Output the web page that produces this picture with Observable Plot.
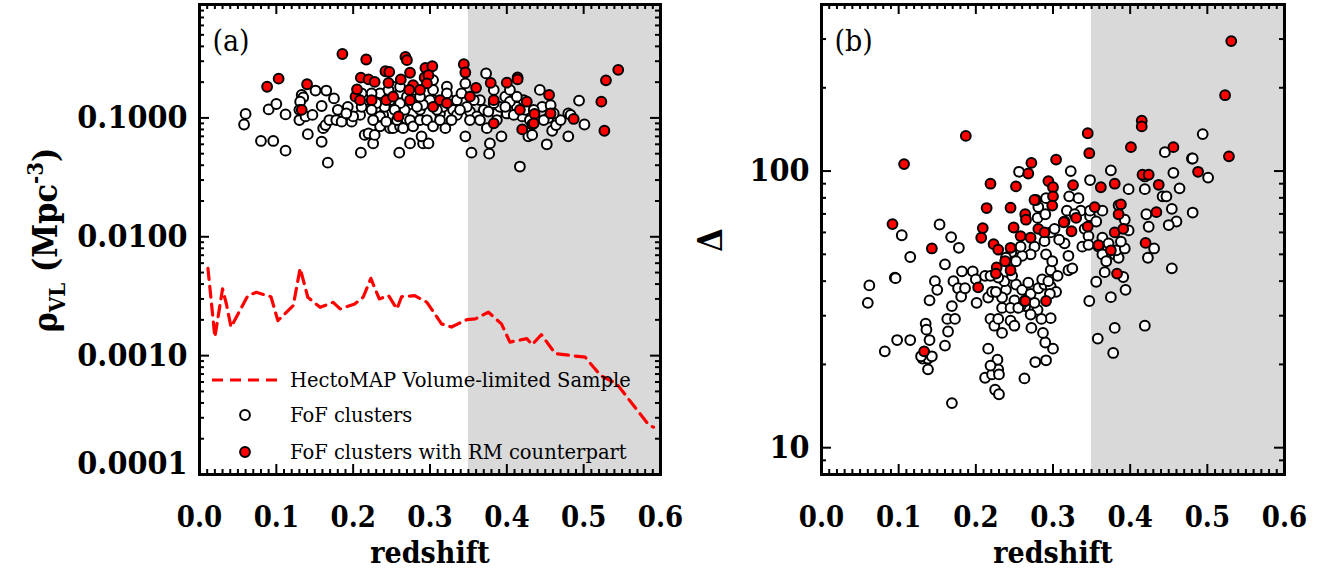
<!DOCTYPE html>
<html><head><meta charset="utf-8">
<script src="https://cdn.jsdelivr.net/npm/d3@7"></script>
<script src="https://cdn.jsdelivr.net/npm/@observablehq/plot@0.6"></script>
<style>
body{margin:0;background:#fff;}
#wrap{position:relative;width:1330px;height:569px;display:flex;}
.panel{position:relative;width:665px;height:569px;}
</style></head><body>
<div id="wrap"><div class="panel" id="pa"></div><div class="panel" id="pb"></div></div>
<script>
// ---------- DATA ----------
// Panel (a): FoF clusters [redshift, rho_VL (Mpc^-3)]
const fofA = [[0.058,0.088],[0.060,0.108],[0.080,0.064],[0.096,0.064],[0.112,0.053],[0.090,0.118],[0.100,0.131],[0.112,0.107],[0.133,0.156],[0.135,0.149],[0.131,0.137],[0.130,0.117],[0.130,0.096],[0.138,0.103],[0.147,0.106],[0.141,0.073],[0.151,0.170],[0.165,0.170],[0.175,0.146],[0.159,0.126],[0.159,0.063],[0.167,0.042],[0.161,0.082],[0.164,0.087],[0.169,0.096],[0.178,0.096],[0.185,0.093],[0.180,0.117],[0.193,0.124],[0.198,0.093],[0.209,0.106],[0.210,0.051],[0.226,0.061],[0.215,0.072],[0.220,0.074],[0.228,0.072],[0.239,0.106],[0.248,0.082],[0.252,0.082],[0.261,0.085],[0.260,0.051],[0.274,0.061],[0.291,0.061],[0.298,0.061],[0.289,0.070],[0.278,0.109],[0.287,0.117],[0.304,0.172],[0.304,0.141],[0.313,0.109],[0.320,0.082],[0.322,0.183],[0.326,0.141],[0.330,0.117],[0.335,0.106],[0.346,0.070],[0.354,0.051],[0.346,0.195],[0.352,0.113],[0.365,0.141],[0.374,0.082],[0.378,0.061],[0.377,0.050],[0.373,0.237],[0.387,0.109],[0.393,0.070],[0.398,0.151],[0.400,0.109],[0.417,0.039],[0.420,0.103],[0.424,0.117],[0.428,0.070],[0.433,0.072],[0.443,0.172],[0.446,0.124],[0.452,0.060],[0.457,0.128],[0.459,0.078],[0.464,0.087],[0.454,0.100],[0.480,0.070],[0.480,0.109],[0.483,0.106],[0.494,0.140],[0.501,0.088],[0.470,0.096],[0.448,0.096],[0.430,0.096],[0.413,0.124],[0.404,0.137],[0.391,0.124],[0.383,0.133],[0.370,0.117],[0.361,0.103],[0.357,0.141],[0.348,0.124],[0.339,0.117],[0.328,0.096],[0.317,0.124],[0.309,0.117],[0.300,0.141],[0.291,0.129],[0.283,0.124],[0.274,0.096],[0.267,0.117],[0.261,0.133],[0.254,0.117],[0.248,0.141],[0.241,0.124],[0.235,0.103],[0.230,0.133],[0.224,0.117],[0.217,0.141],[0.211,0.124],[0.200,0.103],[0.191,0.109],[0.257,0.096],[0.265,0.082],[0.278,0.085],[0.287,0.096],[0.235,0.085],[0.243,0.093],[0.226,0.096],[0.296,0.096],[0.304,0.085],[0.313,0.096],[0.335,0.141],[0.341,0.161],[0.352,0.096],[0.365,0.096],[0.376,0.113],[0.387,0.096],[0.398,0.124],[0.409,0.106],[0.422,0.141],[0.435,0.117],[0.461,0.109],[0.413,0.151],[0.404,0.172],[0.383,0.172],[0.278,0.172],[0.270,0.151],[0.252,0.183],[0.235,0.161],[0.304,0.208],[0.224,0.161],[0.211,0.161],[0.246,0.172],[0.261,0.183],[0.287,0.151],[0.322,0.161]];
// Panel (a): FoF clusters with RM counterpart
const rmA = [[0.088,0.183],[0.103,0.214],[0.140,0.192],[0.186,0.345],[0.217,0.310],[0.268,0.326],[0.270,0.306],[0.294,0.264],[0.303,0.272],[0.344,0.283],[0.346,0.241],[0.360,0.179],[0.379,0.197],[0.400,0.198],[0.414,0.219],[0.414,0.211],[0.455,0.156],[0.436,0.108],[0.433,0.088],[0.420,0.080],[0.487,0.098],[0.529,0.207],[0.545,0.254],[0.523,0.137],[0.527,0.078],[0.203,0.151],[0.205,0.174],[0.210,0.218],[0.220,0.211],[0.228,0.201],[0.242,0.247],[0.247,0.244],[0.246,0.197],[0.262,0.211],[0.274,0.240],[0.278,0.189],[0.293,0.219],[0.298,0.229],[0.243,0.141],[0.259,0.103],[0.273,0.172],[0.296,0.195],[0.313,0.141],[0.322,0.133],[0.224,0.141],[0.209,0.141],[0.274,0.141],[0.287,0.172],[0.304,0.124],[0.252,0.151],[0.417,0.117],[0.426,0.137],[0.383,0.141],[0.352,0.151],[0.435,0.090],[0.457,0.109],[0.133,0.117],[0.383,0.090]];
// Panel (a): HectoMAP volume-limited sample density
const vlSample = [[0.011,0.00542],[0.020,0.00143],[0.030,0.00364],[0.035,0.00272],[0.041,0.00174],[0.063,0.00320],[0.074,0.00341],[0.093,0.00313],[0.102,0.00197],[0.122,0.00264],[0.131,0.00542],[0.141,0.00310],[0.157,0.00255],[0.174,0.00281],[0.183,0.00247],[0.202,0.00272],[0.213,0.00310],[0.223,0.00447],[0.234,0.00300],[0.246,0.00320],[0.257,0.00247],[0.263,0.00313],[0.280,0.00320],[0.296,0.00281],[0.315,0.00185],[0.328,0.00174],[0.337,0.00186],[0.348,0.00201],[0.359,0.00204],[0.376,0.00232],[0.393,0.00185],[0.404,0.00130],[0.426,0.00139],[0.433,0.00124],[0.445,0.00150],[0.463,0.00104],[0.496,0.00098],[0.502,0.00097],[0.522,0.00068],[0.543,0.00058],[0.565,0.00038],[0.585,0.00026],[0.591,0.00025]];
// Panel (b): FoF clusters [redshift, Delta]
const fofB = [[0.062,38.6],[0.060,33.4],[0.095,41.2],[0.096,41.0],[0.104,58.6],[0.115,48.9],[0.082,22.3],[0.098,24.5],[0.115,24.5],[0.153,64.1],[0.160,46.0],[0.147,40.0],[0.150,37.2],[0.140,34.1],[0.135,28.1],[0.136,26.7],[0.140,24.5],[0.134,21.2],[0.131,21.0],[0.138,21.0],[0.143,21.4],[0.129,21.4],[0.138,19.2],[0.160,23.4],[0.164,26.3],[0.163,29.2],[0.169,32.5],[0.173,29.2],[0.169,14.5],[0.168,57.7],[0.178,52.8],[0.171,40.0],[0.177,37.7],[0.181,35.2],[0.186,37.7],[0.182,43.4],[0.196,43.4],[0.201,33.4],[0.200,40.6],[0.212,41.8],[0.216,34.9],[0.219,29.2],[0.224,27.6],[0.234,26.0],[0.229,29.2],[0.216,22.8],[0.212,17.9],[0.221,18.4],[0.229,19.2],[0.228,20.8],[0.230,18.4],[0.219,19.8],[0.225,16.2],[0.230,15.6],[0.263,17.8],[0.277,20.4],[0.291,20.7],[0.300,22.8],[0.290,24.0],[0.287,26.0],[0.297,29.4],[0.285,29.2],[0.280,31.5],[0.276,33.4],[0.272,27.1],[0.271,30.3],[0.264,32.5],[0.258,32.5],[0.250,34.1],[0.245,28.8],[0.250,27.6],[0.239,37.2],[0.234,34.9],[0.237,40.0],[0.252,38.9],[0.260,37.2],[0.268,39.5],[0.271,36.0],[0.281,37.7],[0.289,38.9],[0.297,38.3],[0.304,36.6],[0.296,36.0],[0.286,40.6],[0.294,40.0],[0.297,43.8],[0.291,50.0],[0.299,47.2],[0.306,41.8],[0.320,43.8],[0.325,44.5],[0.320,49.4],[0.315,54.8],[0.308,56.5],[0.297,60.0],[0.289,55.8],[0.276,53.3],[0.271,50.0],[0.260,49.4],[0.258,53.3],[0.252,47.2],[0.246,50.9],[0.239,48.6],[0.247,41.8],[0.229,41.2],[0.219,41.8],[0.221,36.6],[0.226,36.6],[0.234,32.0],[0.245,32.0],[0.255,32.0],[0.263,33.9],[0.280,67.7],[0.291,79.8],[0.281,74.1],[0.290,69.8],[0.302,61.8],[0.315,65.7],[0.318,71.9],[0.321,81.0],[0.333,79.8],[0.336,71.9],[0.328,69.8],[0.341,61.8],[0.346,58.2],[0.338,53.3],[0.348,68.7],[0.346,54.1],[0.359,53.3],[0.364,50.0],[0.369,47.2],[0.380,50.0],[0.385,48.6],[0.367,43.1],[0.356,39.8],[0.347,33.9],[0.358,24.8],[0.375,35.0],[0.380,27.1],[0.378,22.0],[0.391,41.4],[0.394,37.2],[0.364,57.4],[0.372,54.8],[0.382,51.7],[0.393,52.5],[0.398,61.0],[0.388,55.6],[0.393,66.7],[0.385,75.2],[0.398,86.0],[0.364,71.9],[0.356,65.7],[0.348,71.9],[0.348,92.8],[0.323,100],[0.375,100.6],[0.256,99.4],[0.278,78.6],[0.419,86.0],[0.421,69.8],[0.424,62.9],[0.423,48.6],[0.431,52.5],[0.419,27.6],[0.419,95.6],[0.442,81.0],[0.447,81.0],[0.454,73.0],[0.460,65.7],[0.450,63.8],[0.454,44.5],[0.445,117],[0.456,98.5],[0.464,86.6],[0.481,70.8],[0.480,111],[0.481,111],[0.501,94.7],[0.494,136]];
// Panel (b): FoF clusters with RM counterpart
const rmB = [[0.531,295],[0.523,188],[0.528,113],[0.415,152],[0.415,145],[0.345,137],[0.347,116],[0.401,122],[0.456,122],[0.187,134],[0.107,106],[0.488,99.4],[0.416,97],[0.424,97],[0.437,89.2],[0.362,87.4],[0.380,90],[0.304,110],[0.272,107],[0.268,98],[0.219,90],[0.252,88],[0.294,92],[0.300,87.4],[0.326,89],[0.276,78.6],[0.245,73.7],[0.214,73.5],[0.300,81],[0.299,75],[0.354,74.1],[0.388,75.8],[0.434,71],[0.264,69.8],[0.265,66.7],[0.249,62.5],[0.209,62.2],[0.207,57.4],[0.281,61.8],[0.314,65.3],[0.330,67.7],[0.324,60.6],[0.345,63],[0.385,69.8],[0.380,60],[0.391,61.8],[0.420,55],[0.092,64.3],[0.143,52.5],[0.223,54.4],[0.229,52],[0.245,52.8],[0.258,58.2],[0.271,57.4],[0.289,60],[0.359,54],[0.375,51.7],[0.238,47.2],[0.227,44.8],[0.245,43.8],[0.383,42.6],[0.203,38.0],[0.291,33.9],[0.264,33.9],[0.133,22.3],[0.226,42.6]];

const shaded = [{from: 0.35, to: 0.6}];
const xTicks = [0, 0.1, 0.2, 0.3, 0.4, 0.5, 0.6];
const yTicksA = [0.0001, 0.001, 0.01, 0.1];
const yTicksB = [10, 100];
const legendLabels = ["HectoMAP Volume-limited Sample", "FoF clusters", "FoF clusters with RM counterpart"];

// ---------- DRAW ----------
const FONT = "'DejaVu Serif Condensed', 'DejaVu Serif', serif";
const W = 665, H = 569, MT = 4, MB = 95;
const xMinor = d3.range(0, 61).map(i => i / 100).filter(v => Math.round(v * 100) % 10 !== 0);

function logMinor(lo, hi) {
  const out = [];
  for (let e = Math.floor(Math.log10(lo)); e <= Math.ceil(Math.log10(hi)); e++)
    for (let m = 2; m <= 9; m++) { const v = m * Math.pow(10, e); if (v >= lo && v <= hi) out.push(v); }
  return out;
}

function panel({yDomain, yMajor, yFmt, black, red, line, ml, mr, tag, bottomLabelShift}) {
  const iw = W - ml - mr, ih = H - MT - MB;
  const yMinor = logMinor(yDomain[0], yDomain[1]);
  const tk = {stroke: "black", strokeWidth: 2};
  const majL = 10, minL = 5;
  const marks = [
    Plot.rect(shaded, {x1: "from", x2: "to", fill: "#d9d9d9"}),
    Plot.tickX(xMinor, {x: d => d, insetTop: ih - minL, ...tk}),
    Plot.tickX(xMinor, {x: d => d, insetBottom: ih - minL, ...tk}),
    Plot.tickX(xTicks, {x: d => d, insetTop: ih - majL, ...tk}),
    Plot.tickX(xTicks, {x: d => d, insetBottom: ih - majL, ...tk}),
    Plot.tickY(yMinor, {y: d => d, insetRight: iw - minL, ...tk}),
    Plot.tickY(yMinor, {y: d => d, insetLeft: iw - minL, ...tk}),
    Plot.tickY(yMajor, {y: d => d, insetRight: iw - majL, ...tk}),
    Plot.tickY(yMajor, {y: d => d, insetLeft: iw - majL, ...tk}),
  ];
  if (line) marks.push(Plot.line(line, {x: d => d[0], y: d => d[1], stroke: "red", strokeWidth: 3.2, strokeDasharray: "11,7"}));
  marks.push(
    Plot.dot(black, {x: d => d[0], y: d => d[1], r: 4.9, fill: "white", stroke: "black", strokeWidth: 2}),
    Plot.dot(red, {x: d => d[0], y: d => d[1], r: 4.9, fill: "red", stroke: "black", strokeWidth: 2}),
    Plot.frame({stroke: "black", strokeWidth: 3}),
    Plot.text(xTicks, {x: d => d, text: d => d.toFixed(1), frameAnchor: "bottom", dy: 52, fontSize: 29, fontWeight: "bold"}),
    Plot.text(yMajor.slice(1), {y: d => d, text: yFmt, frameAnchor: "left", textAnchor: "end", dx: -12, fontSize: 32, fontWeight: "bold"}),
    Plot.text(yMajor.slice(0, 1), {y: d => d, text: yFmt, frameAnchor: "left", textAnchor: "end", dx: -12, dy: bottomLabelShift, fontSize: 32, fontWeight: "bold"}),
    Plot.text(["redshift"], {frameAnchor: "bottom", dy: 88, fontSize: 30, fontWeight: "bold"}),
    Plot.text([tag], {frameAnchor: "top-left", textAnchor: "start", dx: 13, dy: 25, fontSize: 30, fontWeight: "normal"})
  );
  return Plot.plot({
    width: W, height: H, marginLeft: ml, marginRight: mr, marginTop: MT, marginBottom: MB,
    x: {domain: [0, 0.6], axis: null},
    y: {type: "log", domain: yDomain, axis: null},
    style: {fontFamily: FONT, fontStretch: "condensed", background: "transparent", color: "black", overflow: "visible"},
    marks
  });
}

const pa = panel({yDomain: [1e-4, 0.9], yMajor: yTicksA, yFmt: d => d.toFixed(4), black: fofA, red: rmA, line: vlSample, ml: 199, mr: 5, tag: "(a)", bottomLabelShift: -11});
const pb = panel({yDomain: [8, 400], yMajor: yTicksB, yFmt: d => String(d), black: fofB, red: rmB, line: null, ml: 156, mr: 46, tag: "(b)", bottomLabelShift: 0});
document.getElementById("pa").appendChild(pa);
document.getElementById("pb").appendChild(pb);

// y-axis titles
{
  const t = d3.select(pa).append("text").attr("transform", "translate(57,240) rotate(-90)")
    .attr("text-anchor", "middle").attr("font-size", 34).attr("font-weight", "bold")
    .attr("font-family", FONT).attr("font-stretch", "condensed").attr("fill", "black");
  t.append("tspan").text("ρ");
  t.append("tspan").attr("font-size", 22).attr("dy", 8).text("VL");
  t.append("tspan").attr("dy", -8).text(" (Mpc");
  t.append("tspan").attr("font-size", 22).attr("dy", -14).text("-3");
  t.append("tspan").attr("dy", 14).text(")");
  d3.select(pb).append("text").attr("transform", "translate(57,240) rotate(-90)")
    .attr("text-anchor", "middle").attr("font-size", 34).attr("font-weight", "bold")
    .attr("font-family", FONT).attr("fill", "black").text("Δ");
}
// legend (panel a)
{
  const g = d3.select(pa).append("g").attr("font-family", "'DejaVu Serif', serif").attr("font-stretch", "normal")
    .attr("font-size", 19.5).attr("fill", "black").attr("text-anchor", "start");
  g.append("line").attr("x1", 212).attr("x2", 277).attr("y1", 380).attr("y2", 380)
    .attr("stroke", "red").attr("stroke-width", 3.2).attr("stroke-dasharray", "11,7");
  g.append("circle").attr("cx", 245).attr("cy", 415).attr("r", 4.9).attr("fill", "white").attr("stroke", "black").attr("stroke-width", 2);
  g.append("circle").attr("cx", 245).attr("cy", 452).attr("r", 4.9).attr("fill", "red").attr("stroke", "black").attr("stroke-width", 2);
  [380, 415, 452].forEach((y, i) => g.append("text").attr("x", 290).attr("y", y).attr("dy", "0.35em")
    .attr("text-anchor", "start").attr("font-stretch", "normal").text(legendLabels[i]));
}
</script>
</body></html>
